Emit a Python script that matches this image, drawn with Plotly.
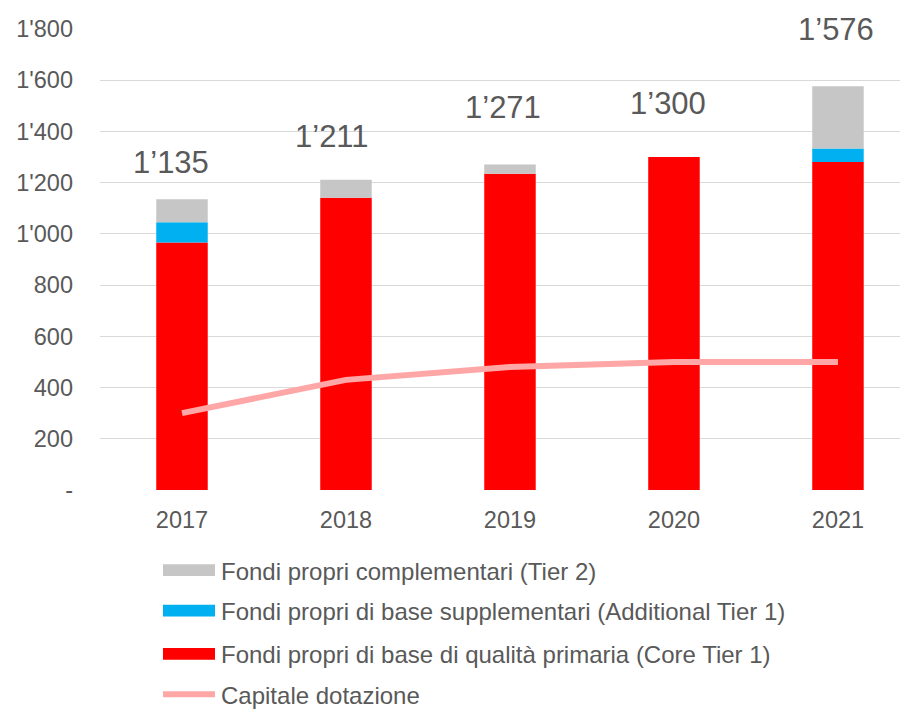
import plotly.graph_objects as go

# Data
years = ['2017', '2018', '2019', '2020', '2021']
core_tier1 = [966, 1141, 1235, 1300, 1281]
additional_tier1 = [79, 0, 0, 0, 52]
tier2 = [90, 70, 36, 0, 243]
capitale_dotazione = [300, 430, 480, 500, 500]
totals = [1135, 1211, 1271, 1300, 1576]
total_labels = ['1’135', '1’211', '1’271', '1’300', '1’576']

y_tickvals = [0, 200, 400, 600, 800, 1000, 1200, 1400, 1600, 1800]
y_ticktext = ['-', '200', '400', '600', '800', "1'000", "1'200", "1'400", "1'600", "1'800"]

legend_names = [
    'Fondi propri complementari (Tier 2)',
    'Fondi propri di base supplementari (Additional Tier 1)',
    'Fondi propri di base di qualità primaria (Core Tier 1)',
    'Capitale dotazione',
]

RED = '#FF0000'
BLUE = '#00B0F0'
GREY = '#C6C6C6'
PINK = '#FFA6A6'
TEXT = '#595959'
FONT = 'Liberation Sans, Arial, sans-serif'

# page body has an 8px margin, so everything is laid out 8px up/left
OFF = 8
W, H = 908, 710
L, R, T, B = 100 - OFF, OFF, 22 - OFF, 710 - (490.5 - OFF)
plot_w = W - L - R
plot_h = H - T - B


def px_to_paper(sx, sy):
    fx, fy = sx - OFF, sy - OFF
    return (fx - L) / plot_w, (H - B - fy) / plot_h


fig = go.Figure()

fig.add_trace(go.Bar(x=years, y=core_tier1, name=legend_names[2],
                     marker=dict(color=RED, line_width=0), showlegend=False))
fig.add_trace(go.Bar(x=years, y=additional_tier1, name=legend_names[1],
                     marker=dict(color=BLUE, line_width=0), showlegend=False))
fig.add_trace(go.Bar(x=years, y=tier2, name=legend_names[0],
                     marker=dict(color=GREY, line_width=0), showlegend=False))
fig.add_trace(go.Scatter(x=years, y=capitale_dotazione, name=legend_names[3],
                         mode='lines', line=dict(color=PINK, width=6),
                         showlegend=False))

# total labels above the stacks
yshifts = [37, 43, 57, 54, 57]
xshifts = [-11, -14, -7, -6, -2]
for i, (tot, lab) in enumerate(zip(totals, total_labels)):
    fig.add_annotation(x=i, y=tot, text=lab, showarrow=False,
                       yshift=yshifts[i], xshift=xshifts[i], yanchor='middle',
                       font=dict(size=31, color=TEXT, family=FONT))

# hand-drawn legend (wide swatches like the original)
rows_y = [572, 613, 657, 698]
swatch_colors = [GREY, BLUE, RED]
for i, name in enumerate(legend_names):
    cy = rows_y[i]
    if i < 3:
        x0, y0 = px_to_paper(163, cy - 6)
        x1, y1 = px_to_paper(215, cy + 6)
        fig.add_shape(type='rect', xref='paper', yref='paper',
                      x0=x0, x1=x1, y0=y0, y1=y1,
                      fillcolor=swatch_colors[i], line_width=0)
    else:
        x0, y0 = px_to_paper(163, cy)
        x1, _ = px_to_paper(215, cy)
        fig.add_shape(type='line', xref='paper', yref='paper',
                      x0=x0, x1=x1, y0=y0, y1=y0,
                      line=dict(color=PINK, width=6))
    tx, ty = px_to_paper(219, cy + 1)
    fig.add_annotation(xref='paper', yref='paper', x=tx, y=ty, text=name,
                       showarrow=False, xanchor='left', yanchor='middle',
                       font=dict(size=24, color=TEXT, family=FONT))

fig.update_layout(
    width=W, height=H,
    margin=dict(l=L, r=R, t=T, b=B),
    barmode='relative',
    bargap=0.686,
    plot_bgcolor='white',
    paper_bgcolor='white',
    font=dict(family=FONT, color=TEXT, size=23),
    showlegend=False,
)

fig.update_xaxes(type='category', range=[-0.5, 4.427], showgrid=False,
                 showline=False, ticks='', ticklabelstandoff=13,
                 tickfont=dict(size=23.5, color=TEXT, family=FONT))
fig.update_yaxes(range=[0, 1800], tickvals=y_tickvals, ticktext=y_ticktext,
                 showgrid=True, gridcolor='#D9D9D9', gridwidth=1.3,
                 zeroline=False, showline=False, ticks='',
                 ticklabelstandoff=26,
                 tickfont=dict(size=23.5, color=TEXT, family=FONT))

fig.write_html("out.html")
